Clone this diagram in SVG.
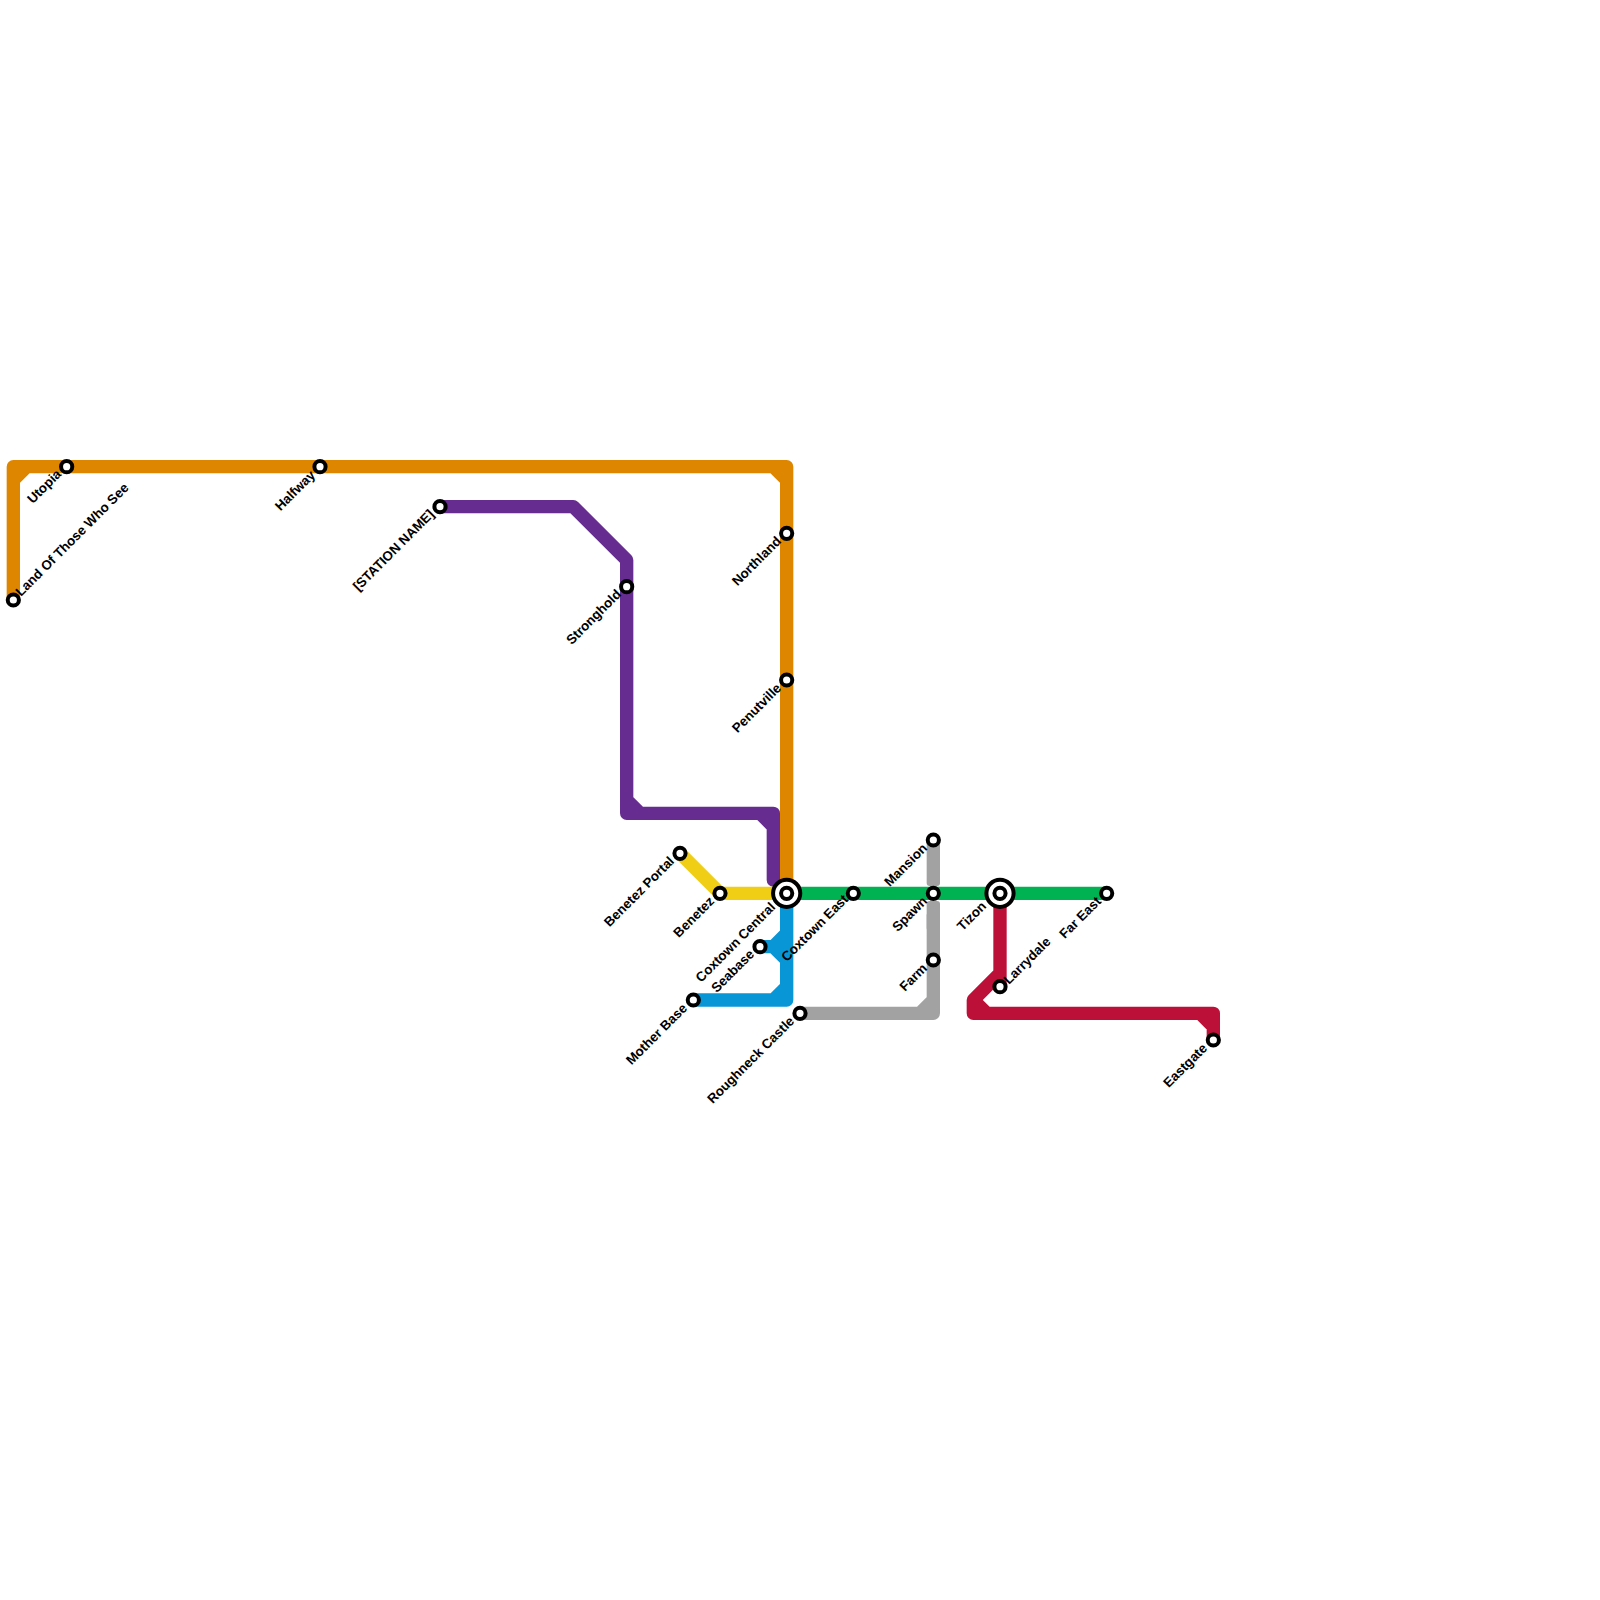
<svg xmlns="http://www.w3.org/2000/svg" width="1600" height="1600" viewBox="0 0 1600 1600">
<style>
.l{fill:none;stroke-width:13.33;stroke-linejoin:round;stroke-linecap:round}
.s{fill:#fff;stroke:#000;stroke-width:4}
.i{fill:#fff;stroke:#000;stroke-width:4}
.g{fill:#a2a2a2}
text{font-family:"Liberation Sans",Arial,sans-serif;font-weight:bold;font-size:13.33px;fill:#000}
.e{text-anchor:end}
</style>
<rect width="1600" height="1600" fill="#fff"/>
<g id="connectors">
<path class="l" style="stroke:#df8600" d="M13.33 600V466.67H786.67V893.33M13.33 480L26.67 466.67M773.33 466.67L786.67 480"/>
<path class="l" style="stroke:#662c90" d="M440 506.67H573.33L626.67 560V813.33H773.33V880M626.67 800L640 813.33M760 813.33L773.33 826.67"/>
<path class="l" style="stroke:#f0ce15" d="M680 853.33L720 893.33H786.67"/>
<rect class="g" x="926.67" y="840" width="13.33" height="46" rx="3"/>
<rect class="g" x="926.67" y="901" width="13.33" height="30" rx="3"/>
<path class="l" style="stroke:#a2a2a2" d="M933.33 915V1013.33H800M920 1013.33L933.33 1000"/>
<path class="l" style="stroke:#00b251" d="M786.67 893.33H1106.67"/>
<path class="l" style="stroke:#0896d7" d="M786.67 893.33V1000H693.33M773.33 1000L786.67 986.67M760 946.67H773.33L786.67 933.33M773.33 946.67L786.67 960"/>
<path class="l" style="stroke:#bd1038" d="M1000 893.33V973.33L973.33 1000V1013.33H1213.33V1040M973.33 1000L986.67 1013.33M1200 1013.33L1213.33 1026.67M1000 973.33V986.67"/>
</g>
<g id="land"><circle class="s" cx="13.33" cy="600" r="5.6"/><text transform="translate(21 597) rotate(-45)">Land Of Those Who See</text></g>
<g id="utopia"><circle class="s" cx="66.67" cy="466.67" r="5.6"/><text class="e" transform="translate(62 475) rotate(-45)">Utopia</text></g>
<g id="halfway"><circle class="s" cx="320" cy="466.67" r="5.6"/><text class="e" transform="translate(316 476) rotate(-45)">Halfway</text></g>
<g id="station-name"><circle class="s" cx="440" cy="506.67" r="5.6"/><text class="e" transform="translate(435 515) rotate(-45)">[STATION NAME]</text></g>
<g id="stronghold"><circle class="s" cx="626.67" cy="586.67" r="5.6"/><text class="e" transform="translate(622 595) rotate(-45)">Stronghold</text></g>
<g id="northland"><circle class="s" cx="786.67" cy="533.33" r="5.6"/><text class="e" transform="translate(782 542) rotate(-45)">Northland</text></g>
<g id="penutville"><circle class="s" cx="786.67" cy="680" r="5.6"/><text class="e" transform="translate(782 689) rotate(-45)">Penutville</text></g>
<g id="benetez-portal"><circle class="s" cx="680" cy="853.33" r="5.6"/><text class="e" transform="translate(675 862) rotate(-45)">Benetez Portal</text></g>
<g id="benetez"><circle class="s" cx="720" cy="893.33" r="5.6"/><text class="e" transform="translate(715 902) rotate(-45)">Benetez</text></g>
<g id="coxtown-central"><circle class="i" cx="786.67" cy="893.33" r="13.6"/><circle class="s" cx="786.67" cy="893.33" r="5.6"/><text class="e" transform="translate(776 908) rotate(-45)">Coxtown Central</text></g>
<g id="coxtown-east"><circle class="s" cx="853.33" cy="893.33" r="5.6"/><text class="e" transform="translate(849 900) rotate(-45)">Coxtown East</text></g>
<g id="mansion"><circle class="s" cx="933.33" cy="840" r="5.6"/><text class="e" transform="translate(928 849) rotate(-45)">Mansion</text></g>
<g id="spawn"><circle class="s" cx="933.33" cy="893.33" r="5.6"/><text class="e" transform="translate(928 902) rotate(-45)">Spawn</text></g>
<g id="farm"><circle class="s" cx="933.33" cy="960" r="5.6"/><text class="e" transform="translate(928 969) rotate(-45)">Farm</text></g>
<g id="tizon"><circle class="i" cx="1000" cy="893.33" r="13.6"/><circle class="s" cx="1000" cy="893.33" r="5.6"/><text class="e" transform="translate(987 907) rotate(-45)">Tizon</text></g>
<g id="larrydale"><circle class="s" cx="1000" cy="986.67" r="5.6"/><text transform="translate(1009 985) rotate(-45)">Larrydale</text></g>
<g id="far-east"><circle class="s" cx="1106.67" cy="893.33" r="5.6"/><text class="e" transform="translate(1102 902) rotate(-45)">Far East</text></g>
<g id="eastgate"><circle class="s" cx="1213.33" cy="1040" r="5.6"/><text class="e" transform="translate(1208 1049) rotate(-45)">Eastgate</text></g>
<g id="seabase"><circle class="s" cx="760" cy="946.67" r="5.6"/><text class="e" transform="translate(755 955) rotate(-45)">Seabase</text></g>
<g id="mother-base"><circle class="s" cx="693.33" cy="1000" r="5.6"/><text class="e" transform="translate(688 1009) rotate(-45)">Mother Base</text></g>
<g id="roughneck-castle"><circle class="s" cx="800" cy="1013.33" r="5.6"/><text class="e" transform="translate(795 1022) rotate(-45)">Roughneck Castle</text></g>
</svg>
